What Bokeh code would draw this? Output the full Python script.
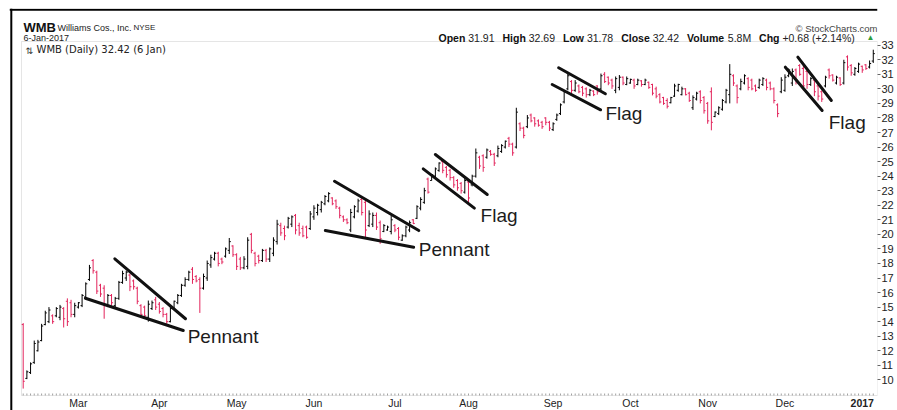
from bokeh.plotting import figure
from bokeh.models import Range1d, FixedTicker, Label, ColumnDataSource, BoxAnnotation, Span
from bokeh.embed import file_html
from bokeh.resources import INLINE
from bokeh.core.properties import value

# ---------------- data (WMB daily, 8-Feb-2016 .. 6-Jan-2017) ----------------
opens = [
    13.8, 10.1, 10.5, 11.2, 12.0, 12.7, 13.8, 14.0, 14.4, 14.4,
    14.3, 14.9, 15.4, 15.3, 14.5, 15.0, 15.1, 15.7, 16.9, 18.2,
    17.4, 16.5, 16.3, 15.1, 15.8, 15.1, 15.6, 16.7, 17.0, 17.2,
    16.8, 16.3, 15.1, 15.0, 14.3, 14.9, 15.5, 15.2, 14.9, 14.5,
    14.0, 14.9, 15.3, 15.8, 16.5, 16.9, 17.6, 17.1, 16.9, 16.3,
    17.0, 17.9, 18.3, 18.7, 18.3, 18.5, 18.9, 19.2, 18.6, 18.3,
    17.7, 17.8, 20.0, 18.7, 18.5, 18.2, 18.9, 18.3, 18.7, 19.5,
    20.6, 20.4, 20.5, 20.7, 21.3, 20.6, 20.4, 20.5, 20.4, 21.2,
    21.5, 21.7, 22.1, 22.3, 22.5, 22.3, 21.8, 21.2, 21.0, 20.3,
    21.2, 21.6, 22.4, 22.2, 20.6, 20.7, 21.3, 20.8, 20.2, 20.3,
    20.2, 20.6, 20.4, 19.6, 19.9, 20.3, 21.0, 21.1, 21.8, 22.2,
    23.8, 23.7, 24.0, 24.4, 25.0, 24.6, 24.4, 23.9, 23.7, 23.5,
    22.9, 23.6, 23.4, 24.0, 25.3, 25.4, 25.3, 25.7, 25.5, 25.4,
    25.7, 26.0, 26.6, 26.2, 26.0, 27.6, 27.3, 27.4, 28.2, 28.0,
    27.8, 27.7, 28.0, 27.7, 27.2, 27.9, 28.3, 29.1, 30.0, 30.5,
    29.9, 30.2, 30.1, 30.0, 29.6, 29.85, 30.2, 30.0, 31.0, 30.8,
    30.6, 29.9, 30.1, 30.8, 30.3, 30.4, 30.6, 30.3, 30.55, 30.3,
    30.45, 30.3, 30.0, 29.6, 29.4, 29.2, 29.05, 29.5, 29.9, 29.6,
    30.0, 29.7, 28.7, 29.3, 29.8, 29.4, 29.0, 29.8, 28.1, 28.3,
    28.6, 29.1, 29.6, 30.9, 30.2, 30.0, 30.4, 30.7, 30.6, 30.2,
    30.1, 30.3, 30.6, 30.4, 30.0, 28.9, 29.8, 29.9, 30.9, 30.4,
    31.3, 31.6, 31.4, 31.2, 30.3, 30.6, 30.2, 29.8, 30.2, 31.3,
    30.95, 30.4, 30.75, 30.4, 32.2, 31.6, 31.0, 31.2, 31.55, 31.65,
    31.5, 31.91,
]
highs = [
    13.9, 10.65, 11.2, 12.7, 12.75, 13.85, 14.75, 15.0, 14.5, 15.0,
    15.15, 15.0, 15.6, 15.5, 15.3, 15.35, 15.9, 16.7, 17.9, 18.3,
    17.5, 16.6, 16.5, 15.9, 15.9, 15.7, 16.8, 17.5, 17.5, 17.3,
    16.9, 16.4, 15.2, 15.1, 15.45, 15.45, 15.7, 15.35, 15.0, 14.6,
    15.0, 15.45, 15.9, 16.6, 17.05, 17.5, 17.75, 17.2, 17.05, 17.3,
    18.2, 18.6, 18.8, 18.8, 18.4, 19.1, 19.75, 19.25, 18.7, 18.45,
    18.5, 19.8, 20.1, 18.8, 18.6, 19.0, 19.0, 19.1, 19.8, 21.0,
    20.8, 20.6, 21.2, 21.3, 21.4, 20.8, 20.6, 20.6, 21.6, 22.0,
    22.1, 22.3, 22.7, 22.9, 22.55, 22.4, 21.9, 21.3, 21.1, 21.75,
    22.0, 22.45, 22.55, 22.45, 21.65, 21.5, 21.5, 20.95, 20.7, 20.6,
    21.3, 20.7, 20.5, 20.0, 20.6, 20.95, 21.05, 22.0, 22.55, 23.2,
    23.9, 24.15, 24.6, 24.95, 25.1, 24.7, 24.5, 24.0, 23.8, 23.6,
    23.9, 23.7, 24.1, 25.9, 25.4, 25.5, 25.9, 25.8, 25.6, 26.1,
    26.2, 26.45, 26.7, 26.3, 28.7, 27.7, 27.4, 28.2, 28.3, 28.05,
    27.9, 27.8, 28.05, 27.8, 27.7, 28.3, 29.0, 29.9, 31.1, 30.6,
    30.6, 30.3, 30.2, 30.1, 30.0, 29.9, 30.25, 31.05, 31.15, 30.85,
    30.7, 30.85, 30.95, 30.85, 30.85, 30.7, 30.7, 30.7, 30.6, 30.7,
    30.5, 30.35, 30.15, 29.7, 29.45, 29.35, 29.45, 30.35, 30.35, 30.15,
    30.05, 29.8, 29.55, 29.8, 29.9, 29.5, 29.1, 30.1, 28.45, 28.8,
    29.3, 30.0, 31.7, 31.0, 30.3, 30.7, 31.0, 30.8, 30.7, 30.3,
    30.7, 30.8, 30.7, 30.5, 30.1, 29.0, 30.8, 31.0, 31.4, 31.4,
    31.4, 31.7, 31.6, 31.4, 30.8, 30.7, 30.3, 29.9, 30.9, 31.4,
    31.0, 30.9, 30.8, 32.0, 32.3, 31.7, 31.5, 31.8, 31.6, 31.7,
    31.95, 32.69,
]
lows = [
    9.4, 10.05, 10.4, 11.1, 11.95, 12.65, 13.75, 13.9, 13.85, 14.3,
    14.1, 13.6, 13.7, 14.3, 14.3, 14.9, 15.0, 15.6, 16.8, 17.3,
    15.9, 15.7, 14.2, 15.0, 15.1, 15.0, 15.5, 16.6, 16.8, 16.1,
    16.2, 15.2, 14.3, 14.2, 14.0, 14.8, 14.8, 14.55, 14.3, 13.85,
    13.95, 14.8, 15.2, 15.7, 16.4, 16.8, 16.6, 16.7, 14.6, 16.2,
    16.8, 17.7, 18.2, 17.8, 17.95, 18.4, 18.65, 18.45, 17.55, 17.55,
    17.6, 17.6, 18.7, 17.8, 18.0, 18.1, 18.1, 18.1, 18.5, 19.3,
    19.9, 19.6, 20.4, 20.5, 20.0, 19.9, 19.8, 19.7, 20.3, 21.0,
    21.3, 21.5, 22.0, 22.2, 22.0, 21.75, 21.1, 20.85, 20.7, 20.15,
    21.1, 21.5, 21.3, 19.8, 20.5, 20.5, 20.3, 19.35, 20.15, 20.25,
    20.0, 20.15, 19.6, 19.55, 19.8, 20.15, 20.7, 21.05, 21.65, 22.1,
    22.8, 23.7, 23.9, 24.3, 24.2, 23.9, 23.7, 23.2, 23.0, 22.8,
    22.8, 22.2, 23.3, 23.9, 24.5, 24.3, 25.2, 25.4, 24.7, 25.3,
    25.6, 25.9, 26.0, 25.4, 25.9, 27.1, 26.6, 27.3, 27.7, 27.4,
    27.4, 27.25, 27.5, 27.1, 27.1, 27.8, 28.2, 29.0, 29.9, 29.7,
    29.8, 29.7, 29.5, 29.4, 29.5, 29.5, 29.6, 29.9, 30.4, 30.25,
    30.0, 29.7, 29.9, 30.25, 30.25, 30.35, 30.0, 30.25, 30.15, 30.25,
    30.0, 29.55, 29.35, 29.0, 28.9, 28.65, 29.0, 29.45, 29.8, 29.55,
    29.55, 29.1, 28.55, 29.2, 29.0, 28.3, 27.6, 27.15, 28.05, 28.2,
    28.5, 29.0, 29.0, 30.2, 29.0, 29.9, 30.3, 29.9, 29.9, 29.8,
    30.0, 30.2, 29.9, 29.9, 29.0, 28.05, 29.7, 29.8, 30.8, 30.2,
    30.3, 30.9, 29.9, 30.0, 30.2, 29.5, 29.2, 29.1, 30.1, 30.7,
    30.5, 30.3, 30.2, 30.3, 31.25, 30.9, 30.9, 31.1, 31.1, 31.3,
    31.4, 31.78,
]
closes = [
    9.9, 10.55, 11.1, 12.5, 12.6, 13.7, 14.6, 14.8, 14.0, 14.9,
    15.0, 14.2, 14.0, 14.5, 15.1, 15.3, 15.8, 16.6, 17.7, 17.5,
    16.1, 15.9, 15.1, 15.8, 15.3, 15.6, 16.7, 17.3, 17.4, 16.4,
    16.4, 15.4, 14.5, 14.4, 15.2, 15.3, 15.0, 14.7, 14.5, 14.0,
    14.9, 15.4, 15.8, 16.5, 16.9, 17.4, 16.9, 16.8, 16.3, 17.1,
    18.0, 18.4, 18.7, 18.0, 18.1, 19.0, 19.5, 18.6, 17.8, 17.7,
    18.3, 19.6, 18.9, 18.0, 18.2, 18.9, 18.3, 19.0, 19.6, 20.7,
    20.1, 19.9, 21.1, 21.2, 20.3, 20.1, 19.9, 19.8, 21.4, 21.8,
    22.0, 22.2, 22.6, 22.8, 22.1, 21.9, 21.3, 21.0, 20.8, 21.5,
    21.9, 22.3, 21.5, 20.3, 21.4, 21.3, 20.5, 19.7, 20.6, 20.5,
    21.0, 20.3, 19.8, 19.9, 20.5, 20.8, 20.75, 21.9, 22.4, 23.0,
    22.9, 24.1, 24.5, 24.9, 24.4, 24.1, 23.9, 23.4, 23.2, 23.0,
    23.7, 22.5, 24.0, 25.6, 24.7, 24.6, 25.8, 25.5, 24.9, 25.9,
    26.1, 26.4, 26.2, 25.6, 28.4, 27.3, 26.8, 28.0, 27.8, 27.6,
    27.5, 27.4, 27.7, 27.3, 27.6, 28.2, 28.9, 29.8, 30.9, 29.9,
    30.4, 29.8, 29.7, 29.6, 29.9, 29.6, 29.8, 30.9, 30.5, 30.4,
    30.2, 30.7, 30.8, 30.4, 30.7, 30.65, 30.2, 30.6, 30.3, 30.6,
    30.1, 29.7, 29.5, 29.1, 29.0, 28.8, 29.4, 30.2, 30.3, 30.0,
    29.6, 29.2, 29.4, 29.7, 29.2, 28.5, 27.8, 27.7, 28.4, 28.7,
    29.2, 29.9, 31.0, 30.4, 29.4, 30.5, 30.9, 30.1, 30.0, 29.9,
    30.6, 30.7, 30.1, 30.0, 29.2, 28.3, 30.6, 30.8, 31.3, 31.2,
    30.6, 31.0, 30.2, 30.3, 30.7, 29.8, 29.5, 29.3, 30.8, 30.9,
    30.6, 30.8, 30.3, 31.8, 31.5, 31.1, 31.4, 31.7, 31.3, 31.4,
    31.74, 32.42,
]
assert len(opens) == len(highs) == len(lows) == len(closes) == 232

# first trading day of each month (bar index) and its label
month_start = [15, 37, 58, 79, 101, 121, 144, 165, 186, 207, 228]
month_labels = ["Mar", "Apr", "May", "Jun", "Jul", "Aug", "Sep", "Oct", "Nov", "Dec", "2017"]
month_style = ["normal"] * 10 + ["bold"]          # year label is bold
price_ticks = [10, 11, 12, 13, 14, 15, 16, 17, 18, 19, 20, 21, 22, 23,
               24, 25, 26, 27, 28, 29, 30, 31, 32, 33]

# hand-drawn pattern lines (bar index, price)
line_x0 = [24.9, 16.9, 84.6, 82.1, 112.0, 108.7, 145.5, 143.75, 210.5, 207.1]
line_y0 = [18.32, 15.61, 23.65, 20.26, 25.49, 24.5, 31.45, 30.3, 32.18, 31.49]
line_x1 = [44.1, 43.5, 107.5, 106.1, 126.1, 122.6, 158.2, 156.9, 219.6, 217.1]
line_y1 = [14.2, 13.39, 20.26, 19.12, 22.74, 21.8, 29.66, 28.56, 29.2, 28.51]
note_text = ["Pennant", "Pennant", "Flag", "Flag", "Flag"]
note_x = [44.7, 107.5, 124.3, 158.2, 218.9]
note_y = [12.95, 18.94, 21.3, 28.29, 27.71]

# header texts
symbol = "WMB"
company = "Williams Cos., Inc."
exchange = "NYSE"
last_date = "6-Jan-2017"
legend_text = "WMB (Daily) 32.42 (6 Jan)"
quote_keys = ["Open", "High", "Low", "Close", "Volume", "Chg"]
quote_vals = ["31.91", "32.69", "31.78", "32.42", "5.8M", "+0.68 (+2.14%)"]

# ---------------- layout (page pixels) ----------------
W, H = 897, 410
FRAME_L, FRAME_T, FRAME_R, FRAME_B = 9, 8, 877, 410    # drawing frame (header + month row)
BOX_L, BOX_T, BOX_B = 21, 41, 395                      # grey price box (right = frame right)
BORDER_X, BORDER_Y = 10.8, 9.2                         # black outer border lines
MONTH_Y = 402.5                                        # month label row (centre)
BAR0_X, PX_PER_BAR = 22.7, 3.68                        # x pixel of first bar, bar spacing
Y33_PX, PX_PER_USD = 44.7, 14.55                       # y pixel of $33, pixel per dollar
KEY_PX = [438, 502, 562.5, 620.7, 686.5, 758.6]        # quote line: bold key positions
VAL_PX = [467.7, 528.2, 586.4, 652.2, 727.3, 781.9]    # quote line: value positions

def xdata(px):
    return (px - BAR0_X) / PX_PER_BAR

def ydata(py):
    return 33 + (Y33_PX - py) / PX_PER_USD

UP = "#000000"
DOWN = "#e3245c"
n = len(closes)
idx = list(range(n))
colors = [DOWN if c < o else UP for o, c in zip(opens, closes)]
src = ColumnDataSource(dict(
    x=idx, o=opens, h=highs, l=lows, c=closes, color=colors,
    xl=[i - 0.42 for i in idx], xr=[i + 0.42 for i in idx],
))

p = figure(width=W, height=H,
           x_range=Range1d(xdata(FRAME_L), xdata(FRAME_R)),
           y_range=Range1d(ydata(FRAME_B), ydata(FRAME_T)),
           output_backend="svg", toolbar_location=None, y_axis_location="right",
           min_border_left=FRAME_L, min_border_top=FRAME_T,
           min_border_right=W - FRAME_R, min_border_bottom=H - FRAME_B)
p.outline_line_color = None
p.xgrid.visible = False
p.ygrid.visible = False
p.xaxis.visible = False
p.background_fill_color = "white"
p.border_fill_color = "white"

# grey price box
p.add_layout(BoxAnnotation(left=xdata(BOX_L), top=ydata(BOX_T), bottom=ydata(BOX_B),
                           fill_color=None, line_color="#a8a8a8", line_width=1))
# black outer border (top and left)
p.add_layout(Span(location=ydata(BORDER_Y), dimension="width", line_color="black", line_width=2))
p.add_layout(Span(location=xdata(BORDER_X), dimension="height", line_color="black", line_width=2))

# right price axis
ya = p.yaxis[0]
ya.ticker = FixedTicker(ticks=price_ticks)
ya.axis_line_color = None
ya.major_tick_in = 0
ya.major_tick_out = 3
ya.minor_tick_line_color = None
ya.major_tick_line_color = "#666666"
ya.major_label_text_font = "Liberation Sans"
ya.major_label_text_font_size = "11px"
ya.major_label_text_color = "#222222"
ya.major_label_standoff = 1

# daily ticks on the bottom edge of the price box, month labels below it
p.segment(x0=idx, x1=idx, y0=[ydata(BOX_B)] * n, y1=[ydata(BOX_B - 2)] * n,
          line_color="#a0a0a0", line_width=1)
p.text(x=month_start, y=[ydata(MONTH_Y)] * len(month_start), text=month_labels,
       text_font=value("Liberation Sans"), text_font_size="10.5px", text_color="#222222",
       text_font_style=month_style, text_align="center", text_baseline="middle")

# OHLC bars
p.segment(x0="x", y0="l", x1="x", y1="h", color="color", line_width=1, source=src)
p.segment(x0="xl", y0="o", x1="x", y1="o", color="color", line_width=1, source=src)
p.segment(x0="x", y0="c", x1="xr", y1="c", color="color", line_width=1, source=src)

# pattern lines and notes
p.segment(x0=line_x0, y0=line_y0, x1=line_x1, y1=line_y1,
          line_color="#111111", line_width=3, line_cap="round")
p.text(x=note_x, y=note_y, text=note_text, text_font=value("Liberation Sans"),
       text_font_size="19px", text_color="#1c1c1c", text_baseline="alphabetic")

def lab(px, py, text, size, bold=False, color="#222222", align="left", font="Liberation Sans"):
    # px, py: page pixel of text anchor (baseline); converted to frame-relative screen units
    p.add_layout(Label(x=px - FRAME_L, y=FRAME_B - py, x_units="screen", y_units="screen", text=text,
                       text_font=font, text_font_size=size,
                       text_font_style="bold" if bold else "normal",
                       text_color=color, text_align=align, text_baseline="alphabetic"))

# header line 1
lab(23, 27, symbol, "13px", bold=True, color="#111111")
lab(57, 27, company, "9px")
lab(133, 27, exchange, "8px")
lab(877, 28, "\u00a9 StockCharts.com", "9.5px", color="#444444", align="right")
# header line 2
lab(23, 37, last_date, "9px")
for kx, k, vx, v in zip(KEY_PX, quote_keys, VAL_PX, quote_vals):
    lab(kx, 37, k, "10.5px", bold=True, color="#111111")
    lab(vx, 37, v, "10.5px")
lab(866, 37, "\u25b2", "8px", color="#2e9e3e")
# legend inside price box
lab(25, 50, "\u21c5", "9px", font="DejaVu Sans", color="#333333")
lab(36, 49, legend_text, "10px", font="DejaVu Sans")

open("out.html", "w").write(file_html(p, INLINE))
